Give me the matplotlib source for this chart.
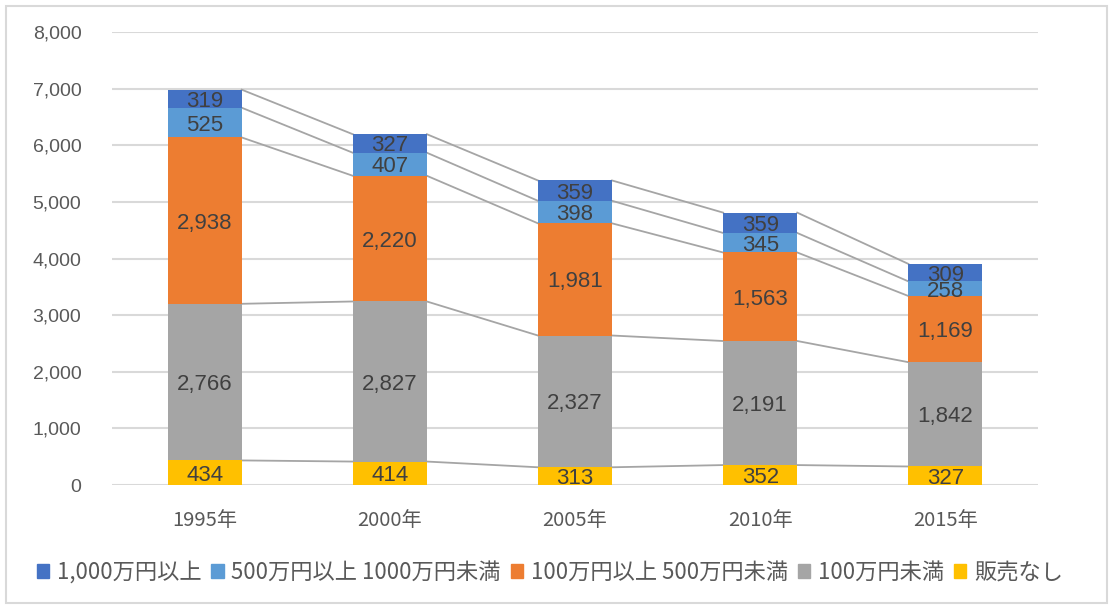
import matplotlib
matplotlib.use("Agg")
import matplotlib.pyplot as plt
import numpy as np
from matplotlib.patches import Rectangle

years = ["1995年", "2000年", "2005年", "2010年", "2015年"]
series_names = ["販売なし", "100万円未満", "100万円以上 500万円未満", "500万円以上 1000万円未満", "1,000万円以上"]
hanbai_nashi = [434, 414, 313, 352, 327]
under_100 = [2766, 2827, 2327, 2191, 1842]
from_100_to_500 = [2938, 2220, 1981, 1563, 1169]
from_500_to_1000 = [525, 407, 398, 345, 258]
over_1000 = [319, 327, 359, 359, 309]
yticks = [0, 1000, 2000, 3000, 4000, 5000, 6000, 7000, 8000]

colors = ["#FFC000", "#A5A5A5", "#ED7D31", "#5B9BD5", "#4472C4"]
data = [hanbai_nashi, under_100, from_100_to_500, from_500_to_1000, over_1000]

plt.rcParams['font.family'] = ['Liberation Sans', 'Noto Sans CJK JP', 'DejaVu Sans']

fig = plt.figure(figsize=(11.13, 6.09), dpi=100)
ax = fig.add_axes([112/1113, 1-485/609, (1038-112)/1113, (485-32)/609])

x = np.arange(len(years))
w = 0.4
bottom = np.zeros(len(years))
tops = []
for vals, c in zip(data, colors):
    vals = np.array(vals, dtype=float)
    ax.bar(x, vals, w, bottom=bottom, color=c, zorder=3)
    for xi, b, v in zip(x, bottom, vals):
        ax.text(xi, b + v/2, f"{int(v):,}", ha="center", va="center_baseline",
                fontsize=16, color="#404040", zorder=5,
                family=['Liberation Sans', 'DejaVu Sans'])
    bottom = bottom + vals
    tops.append(bottom.copy())

for t in tops:
    for i in range(len(years)-1):
        ax.plot([x[i]+w/2, x[i+1]-w/2], [t[i], t[i+1]], color="#A5A5A5", lw=1.3, zorder=2)

ax.set_xlim(-0.5, len(years)-0.5)
ax.set_ylim(0, 8000)
ax.set_yticks(yticks)
ax.set_yticklabels([f"{v:,}" for v in yticks], fontsize=14, color="#595959",
                   family=['Liberation Sans', 'DejaVu Sans'])
ax.set_xticks(x)
ax.set_xticklabels(years, fontsize=14.5, color="#595959", family=['Noto Sans CJK JP'])
ax.tick_params(axis='both', length=0)
ax.tick_params(axis='y', pad=22)
ax.tick_params(axis='x', pad=18)
ax.grid(axis='y', color="#D9D9D9", lw=1.5, zorder=0)
for s in ax.spines.values():
    s.set_visible(False)

handles = [Rectangle((0, 0), 1, 1, color=c) for c in colors[::-1]]
leg = fig.legend(handles, series_names[::-1], loc="center", bbox_to_anchor=(550/1113, 1-572/609),
                 ncol=5, frameon=False, handlelength=0.55, handleheight=0.6, handletextpad=0.35,
                 columnspacing=0.45, prop={'family': ['Noto Sans CJK JP'], 'size': 16})
for t in leg.get_texts():
    t.set_color("#595959")

fig.patches.append(Rectangle((6/1113, 6/609), 1101/1113, 597/609, transform=fig.transFigure,
                             fill=False, edgecolor="#D9D9D9", lw=1.5))

fig.savefig("out.png", dpi=100)
